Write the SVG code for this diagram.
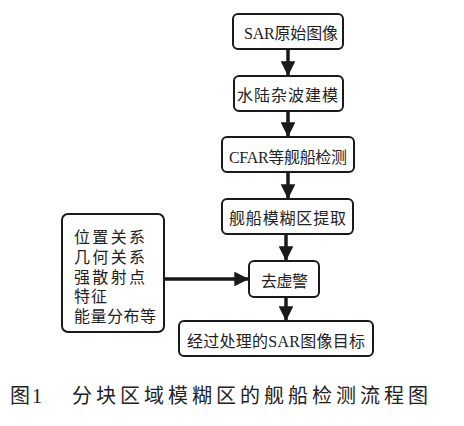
<svg xmlns="http://www.w3.org/2000/svg" width="464" height="426" viewBox="0 0 464 426">
<style>
.box{fill:#fff;stroke:#1a1a1a;stroke-width:2}
.t{font-family:"Liberation Serif","Noto Sans CJK SC",serif;font-size:16px;fill:#222}
.c{font-family:"Liberation Serif","Noto Sans CJK SC",serif;font-size:20px;fill:#222}
.ln{stroke:#1a1a1a;stroke-width:3.5;fill:none}
</style>
<defs>
<marker id="ah" viewBox="0 0 10 10" refX="10" refY="5" markerWidth="4.2" markerHeight="4.2" markerUnits="strokeWidth" orient="auto">
<path d="M0,0 L10,5 L0,10 Z" fill="#1a1a1a"/>
</marker>
</defs>
<rect width="464" height="426" fill="#fff"/>
<g id="connectors">
<line class="ln" x1="288" y1="49" x2="288" y2="76" marker-end="url(#ah)"/>
<line class="ln" x1="288" y1="111" x2="288" y2="137" marker-end="url(#ah)"/>
<line class="ln" x1="288" y1="172" x2="288" y2="199" marker-end="url(#ah)"/>
<line class="ln" x1="286" y1="234" x2="286" y2="261" marker-end="url(#ah)"/>
<line class="ln" x1="286" y1="297" x2="286" y2="321" marker-end="url(#ah)"/>
<line class="ln" x1="164" y1="279" x2="249" y2="279" marker-end="url(#ah)"/>
</g>
<g id="n1">
<rect class="box" x="233" y="14" width="110" height="35" rx="5"/>
<text class="t" x="244" y="39" textLength="94" lengthAdjust="spacing">SAR原始图像</text>
</g>
<g id="n2">
<rect class="box" x="234" y="76" width="109" height="35" rx="5"/>
<text class="t" x="237" y="101" textLength="101" lengthAdjust="spacing">水陆杂波建模</text>
</g>
<g id="n3">
<rect class="box" x="222" y="137" width="132" height="35" rx="5"/>
<text class="t" x="229" y="163" textLength="118" lengthAdjust="spacing">CFAR等舰船检测</text>
</g>
<g id="n4">
<rect class="box" x="222" y="199" width="131" height="35" rx="5"/>
<text class="t" x="229" y="224" textLength="117" lengthAdjust="spacing">舰船模糊区提取</text>
</g>
<g id="n5">
<rect class="box" x="249" y="261" width="70" height="36" rx="5"/>
<text class="t" x="261" y="287" textLength="47" lengthAdjust="spacing">去虚警</text>
</g>
<g id="n6">
<rect class="box" x="62" y="214" width="102" height="118" rx="6"/>
<text class="t" x="74" y="243" textLength="71" lengthAdjust="spacing">位置关系</text>
<text class="t" x="74" y="263" textLength="71" lengthAdjust="spacing">几何关系</text>
<text class="t" x="74" y="283" textLength="71" lengthAdjust="spacing">强散射点</text>
<text class="t" x="74" y="302" textLength="33" lengthAdjust="spacing">特征</text>
<text class="t" x="74" y="322" textLength="82" lengthAdjust="spacing">能量分布等</text>
</g>
<g id="n7">
<rect class="box" x="179" y="321" width="194" height="35" rx="5"/>
<text class="t" x="187" y="347" textLength="178" lengthAdjust="spacing">经过处理的SAR图像目标</text>
</g>
<g id="caption">
<text class="c" x="10" y="403" textLength="32" lengthAdjust="spacing">图1</text>
<text class="c" x="72" y="403" textLength="356" lengthAdjust="spacing">分块区域模糊区的舰船检测流程图</text>
</g>
</svg>
